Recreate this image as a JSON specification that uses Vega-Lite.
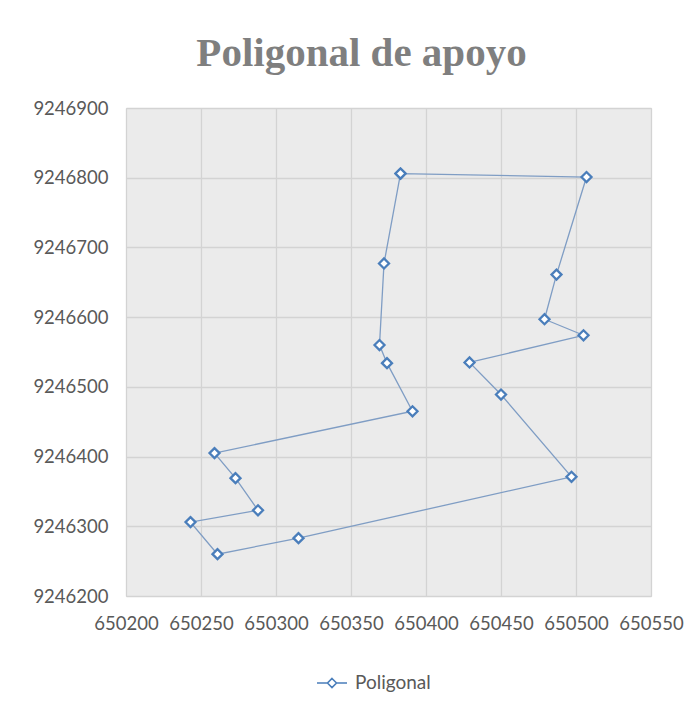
{
  "$schema": "https://vega.github.io/schema/vega-lite/v6.json",
  "autosize": {"type": "none"},
  "width": 525,
  "height": 488,
  "padding": {"left": 126, "top": 108, "right": 44, "bottom": 117},
  "background": "white",
  "title": {"text": "Poligonal de apoyo", "font": "Liberation Serif", "fontWeight": "bold", "fontSize": 41, "color": "#7f7f7f", "anchor": "middle", "dx": -27, "offset": 24},
  "data": {"values": [
    {"n": 1, "x": 650383, "y": 9246806, "serie": "Poligonal"},
    {"n": 2, "x": 650507, "y": 9246801, "serie": "Poligonal"},
    {"n": 3, "x": 650487, "y": 9246661, "serie": "Poligonal"},
    {"n": 4, "x": 650479, "y": 9246597, "serie": "Poligonal"},
    {"n": 5, "x": 650505, "y": 9246574, "serie": "Poligonal"},
    {"n": 6, "x": 650429, "y": 9246535, "serie": "Poligonal"},
    {"n": 7, "x": 650450, "y": 9246489, "serie": "Poligonal"},
    {"n": 8, "x": 650497, "y": 9246371, "serie": "Poligonal"},
    {"n": 9, "x": 650315, "y": 9246283, "serie": "Poligonal"},
    {"n": 10, "x": 650261, "y": 9246260, "serie": "Poligonal"},
    {"n": 11, "x": 650243, "y": 9246306, "serie": "Poligonal"},
    {"n": 12, "x": 650288, "y": 9246323, "serie": "Poligonal"},
    {"n": 13, "x": 650273, "y": 9246369, "serie": "Poligonal"},
    {"n": 14, "x": 650259, "y": 9246405, "serie": "Poligonal"},
    {"n": 15, "x": 650391, "y": 9246465, "serie": "Poligonal"},
    {"n": 16, "x": 650374, "y": 9246534, "serie": "Poligonal"},
    {"n": 17, "x": 650369, "y": 9246560, "serie": "Poligonal"},
    {"n": 18, "x": 650372, "y": 9246677, "serie": "Poligonal"},
    {"n": 19, "x": 650383, "y": 9246806, "serie": "Poligonal"}
  ]},
  "encoding": {
    "x": {"field": "x", "type": "quantitative", "scale": {"domain": [650200, 650550], "nice": false, "zero": false},
      "axis": {"values": [650200, 650250, 650300, 650350, 650400, 650450, 650500, 650550], "title": null, "format": "d"}},
    "y": {"field": "y", "type": "quantitative", "scale": {"domain": [9246200, 9246900], "nice": false, "zero": false},
      "axis": {"values": [9246200, 9246300, 9246400, 9246500, 9246600, 9246700, 9246800, 9246900], "title": null, "format": "d"}},
    "order": {"field": "n", "type": "quantitative"}
  },
  "layer": [
    {"mark": {"type": "line", "color": "#7f9dc4", "strokeWidth": 1.3}},
    {"mark": {"type": "point", "shape": "diamond", "filled": false, "fill": "white", "fillOpacity": 1, "strokeWidth": 2.3, "size": 100, "opacity": 1},
     "encoding": {"color": {"field": "serie", "type": "nominal", "scale": {"range": ["#4a7ebb"]},
       "legend": {"title": null, "orient": "none", "legendX": 190, "legendY": 559,
         "symbolType": "M-1,0H-0.3M0.3,0H1M0,-0.3L0.3,0L0,0.3L-0.3,0Z", "symbolSize": 900, "symbolStrokeWidth": 1.6, "symbolFillColor": "white",
         "labelFont": "Lato", "labelFontSize": 19, "labelColor": "#595959", "labelOffset": 7}}}}
  ],
  "config": {
    "view": {"fill": "#ebebeb", "stroke": "#d3d3d3"},
    "axis": {"domain": false, "ticks": false, "labelPadding": 18, "labelFont": "Lato", "labelFontSize": 18.5, "labelColor": "#595959", "gridColor": "#d3d3d3", "gridWidth": 1.3, "labelFlush": false}
  }
}
